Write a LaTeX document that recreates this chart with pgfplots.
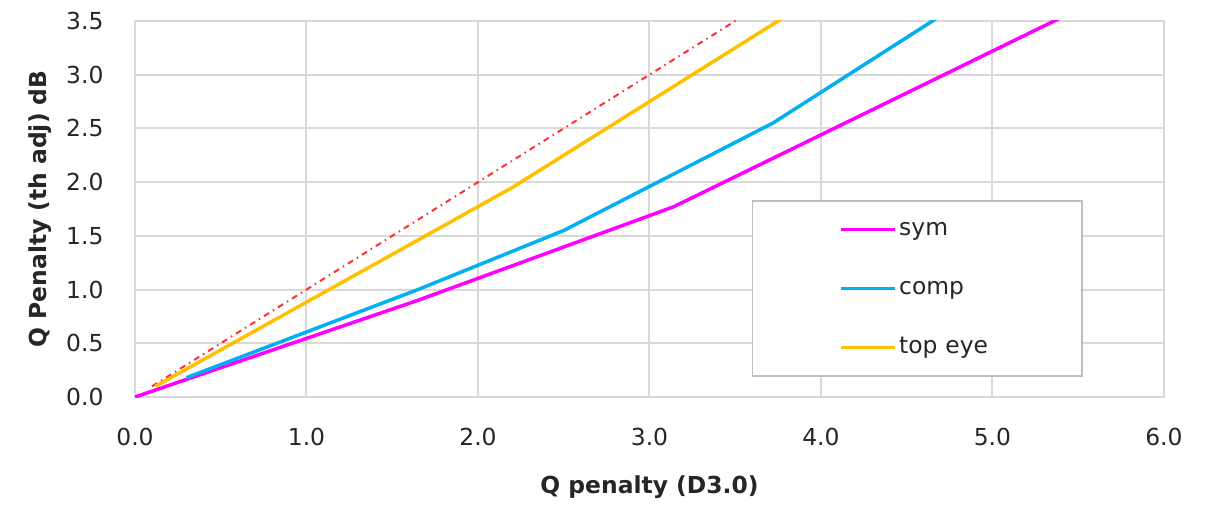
\documentclass[border=0pt]{standalone}
\usepackage{fontspec}
\setmainfont{DejaVu Sans}
\usepackage{pgfplots}
\pgfplotsset{compat=1.18}
\definecolor{symc}{HTML}{FF00FF}
\definecolor{compc}{HTML}{00B0F0}
\definecolor{topc}{HTML}{FFC000}
\definecolor{refc}{HTML}{FF3030}
\definecolor{gridc}{HTML}{D9D9D9}
\definecolor{txtc}{HTML}{262626}
\definecolor{legc}{HTML}{BFBFBF}
\begin{document}
\begin{tikzpicture}[font=\fontsize{23.5}{28}\selectfont]
\useasboundingbox (-135bp,-108bp) rectangle (1081bp,397bp);
\begin{axis}[
  at={(0,0)}, anchor=south west,
  scale only axis, width=1029bp, height=376bp,
  xmin=0, xmax=6, ymin=0, ymax=3.5,
  xtick={0,1,2,3,4,5,6},
  ytick={0,0.5,1,1.5,2,2.5,3,3.5},
  grid=major,
  major grid style={gridc, line width=2bp},
  axis line style={gridc, line width=2bp},
  major tick length=0pt,
  tick style={draw=none},
  /pgf/number format/assume math mode=true,
  /pgf/number format/fixed, /pgf/number format/fixed zerofill,
  /pgf/number format/precision=1,
  ticklabel style={font=\fontsize{23.5}{28}\selectfont, text=txtc},
  xticklabel style={yshift=-28bp},
  yticklabel style={xshift=-28bp},
  xlabel={Q penalty (D3.0)},
  ylabel={Q Penalty (th adj) dB},
  xlabel style={at={(axis description cs:0.5,0)}, anchor=center, yshift=-90bp, font=\fontsize{23.5}{28}\selectfont\bfseries, text=txtc},
  ylabel style={at={(axis description cs:0,0.5)}, anchor=center, yshift=95bp, font=\fontsize{23.5}{28}\selectfont\bfseries, text=txtc},
  legend style={at={(0.5996,0.0532)}, anchor=south west, draw=legc, line width=1.5bp,
    inner xsep=87bp, inner ysep=16.5bp, row sep=35bp,
    font=\fontsize{23.5}{28}\selectfont, text=txtc,
    nodes={inner xsep=2bp, inner ysep=0bp, text height=18bp, text depth=6bp, text width=94bp}},
  legend cell align=left,
  legend image code/.code={\draw[#1, line width=3.5bp] (0bp,0bp) -- (54bp,0bp);},
]
\addplot[refc, line width=2bp, dash pattern=on 6bp off 4.5bp on 1.5bp off 4.5bp, forget plot]
  coordinates {(0.1,0.1) (3.56,3.56)};
\addplot[symc, line width=3.5bp] coordinates {(0,0) (1.65,0.9) (3.14,1.77) (5.42,3.547)};
\addlegendentry{sym}
\addplot[compc, line width=3.5bp] coordinates {(0.3,0.18) (1.65,1.0) (2.5,1.55) (3.72,2.55) (4.7,3.551)};
\addlegendentry{comp}
\addplot[topc, line width=3.5bp] coordinates {(0.12,0.1) (2.2,1.95) (3.8,3.55)};
\addlegendentry{top eye}
\end{axis}
\end{tikzpicture}
\end{document}
